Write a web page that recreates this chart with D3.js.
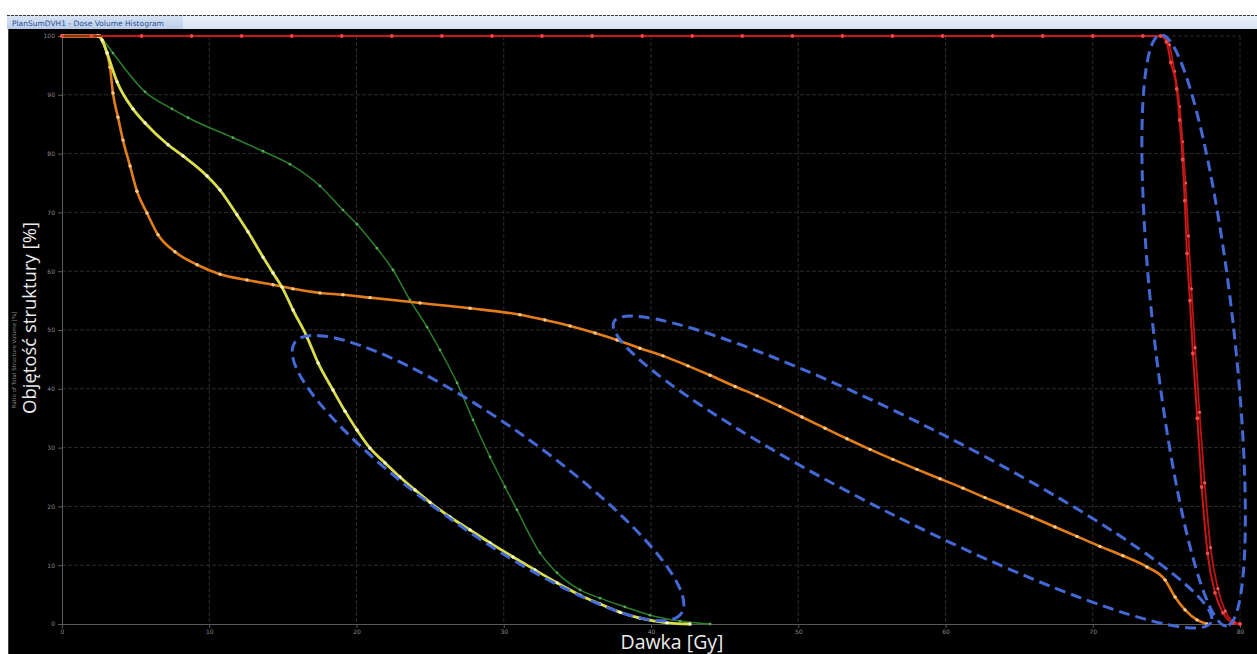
<!DOCTYPE html>
<html>
<head>
<meta charset="utf-8">
<script src="https://cdn.jsdelivr.net/npm/d3@7"></script>
<style>
  html, body { margin: 0; padding: 0; background: #fff; }
  svg { display: block; }
</style>
</head>
<body>
<svg id="chart" width="1257" height="654"></svg>
<script>
// Axis ticks
const doseTicks = [0, 10, 20, 30, 40, 50, 60, 70, 80];
const volumeTicks = [0, 10, 20, 30, 40, 50, 60, 70, 80, 90, 100];

// Cumulative DVH curves: [dose Gy, volume %]
const orangeDVH = [
  [0, 100], [2.58, 100], [2.78, 99.0], [3.06, 97.1], [3.26, 94.7], [3.46, 90.3],
  [3.80, 86.2], [4.14, 82.3], [4.62, 77.9], [5.09, 73.6], [5.77, 69.9], [6.52, 66.2],
  [7.67, 63.3], [9.17, 61.1], [10.73, 59.5], [12.56, 58.5], [14.33, 57.7], [15.69, 57.0],
  [17.52, 56.3], [19.08, 56.0], [20.92, 55.5], [24.31, 54.6], [27.71, 53.7], [31.10, 52.6],
  [32.80, 51.7], [34.50, 50.7], [36.20, 49.5], [37.69, 48.3], [39.25, 46.9], [40.82, 45.6],
  [42.51, 43.9], [44.01, 42.3], [45.71, 40.4], [47.20, 38.8], [48.76, 37.0], [50.25, 35.2],
  [51.82, 33.3], [53.31, 31.5], [54.87, 29.7], [56.43, 28.0], [58.06, 26.3], [59.63, 24.7],
  [61.19, 23.1], [62.68, 21.5], [64.24, 19.9], [65.87, 18.2], [67.44, 16.5], [68.93, 14.9],
  [70.49, 13.2], [72.05, 11.6], [73.68, 9.7], [74.91, 7.5], [75.59, 4.6], [76.27, 2.4],
  [77.08, 0.7], [77.76, 0]
];

const yellowDVH = [
  [0, 100], [2.44, 100], [2.72, 99.3], [3.06, 97.1], [3.74, 92.2], [4.82, 87.6],
  [5.64, 85.2], [7.20, 81.5], [8.22, 79.6], [9.85, 76.2], [10.73, 73.8], [11.88, 69.6],
  [12.63, 66.7], [13.65, 62.4], [14.33, 59.7], [14.94, 57.3], [15.69, 53.4], [16.64, 48.8],
  [17.39, 44.4], [18.40, 39.8], [19.22, 36.2], [20.03, 33.0], [20.92, 29.9], [21.94, 27.4],
  [22.95, 25.0], [23.97, 22.8], [24.99, 20.7], [26.35, 18.2], [27.71, 16.0], [29.07, 13.8],
  [30.63, 11.4], [32.12, 9.2], [33.62, 7.0], [35.18, 4.9], [36.54, 3.4], [37.89, 2.0],
  [39.25, 1.0], [41.09, 0.2], [42.65, 0]
];

const greenDVH = [
  [0, 100], [2.44, 100], [2.78, 99.3], [3.46, 97.1], [5.64, 90.5], [7.47, 87.6],
  [8.56, 86.1], [11.61, 82.7], [13.65, 80.4], [15.48, 78.2], [17.52, 74.5], [19.08, 70.4],
  [20.03, 68.0], [21.39, 63.9], [22.48, 60.2], [23.63, 55.1], [24.79, 50.5], [25.67, 46.6],
  [26.83, 41.0], [27.91, 34.7], [29.07, 28.4], [30.09, 23.3], [30.90, 19.4], [32.46, 12.1],
  [33.62, 8.7], [35.18, 5.8], [36.54, 4.4], [38.23, 2.9], [39.93, 1.5], [41.97, 0.5],
  [44.01, 0]
];

const redDVH1 = [
  [0, 100], [2, 100], [5.4, 100], [8.8, 100], [12.2, 100], [15.6, 100], [19, 100],
  [22.4, 100], [25.8, 100], [29.2, 100], [32.6, 100], [36, 100], [39.4, 100], [42.8, 100],
  [46.2, 100], [49.6, 100], [53, 100], [56.4, 100], [59.8, 100], [63.2, 100], [66.6, 100],
  [70, 100], [73.4, 100], [74.6, 100], [75.0, 99.0], [75.3, 95.5], [75.7, 91], [75.9, 85.7],
  [76.1, 79], [76.25, 72], [76.4, 63], [76.6, 55], [76.8, 46], [77.1, 35], [77.4, 23.3],
  [77.8, 12], [78.3, 5.3], [78.85, 1.9], [79.5, 0.2], [80, 0]
];

const redDVH2 = [
  [0, 100], [74.8, 100], [75.2, 98.5], [75.55, 94], [75.9, 88], [76.1, 82], [76.3, 75],
  [76.5, 66], [76.7, 57], [76.95, 47], [77.25, 36], [77.6, 24], [78.0, 13], [78.5, 6],
  [79.0, 2.2], [79.6, 0.3], [80, 0]
];

// Highlighted regions: major-axis end points in data units
const focusRegions = [
  { from: [15.8, 47.85], to: [42.06, 1.8], halfWidth: 55 },
  { from: [37.48, 51.39], to: [78.04, 0.31], halfWidth: 47 },
  { from: [74.6, 100.2], to: [79.1, -0.3], halfWidth: 40 }
];

const svg = d3.select("#chart");
const W = 1257, H = 654;
const plot = { left: 62, right: 1240, top: 36, bottom: 624 };

const x = d3.scaleLinear().domain([0, 80]).range([plot.left, plot.right]);
const y = d3.scaleLinear().domain([0, 100]).range([plot.bottom, plot.top]);

// Window chrome
const defs = svg.append("defs");
const grad = defs.append("linearGradient").attr("id", "titleGrad")
  .attr("x1", 0).attr("y1", 0).attr("x2", 0).attr("y2", 1);
grad.append("stop").attr("offset", "0%").attr("stop-color", "#dbe6f5");
grad.append("stop").attr("offset", "100%").attr("stop-color", "#b9cce8");
const grad2 = defs.append("linearGradient").attr("id", "titleGrad2")
  .attr("x1", 0).attr("y1", 0).attr("x2", 0).attr("y2", 1);
grad2.append("stop").attr("offset", "0%").attr("stop-color", "#eef3fb");
grad2.append("stop").attr("offset", "100%").attr("stop-color", "#d6e2f2");

svg.append("rect").attr("x", 0).attr("y", 0).attr("width", W).attr("height", H).attr("fill", "#ffffff");
svg.append("rect").attr("x", 7).attr("y", 15).attr("width", W - 7).attr("height", 14).attr("fill", "url(#titleGrad2)");
svg.append("rect").attr("x", 7).attr("y", 15).attr("width", 176).attr("height", 14).attr("fill", "url(#titleGrad)");
svg.append("line").attr("x1", 7).attr("x2", W).attr("y1", 15.5).attr("y2", 15.5)
  .attr("stroke", "#3a3a3a").attr("stroke-width", 1).attr("stroke-dasharray", "3,1");
svg.append("text").attr("x", 12).attr("y", 25.5)
  .attr("font-family", "DejaVu Sans, sans-serif").attr("font-size", 7.5)
  .attr("fill", "#2c4f96")
  .text("PlanSumDVH1 - Dose Volume Histogram");

svg.append("rect").attr("x", 8).attr("y", 29).attr("width", W - 8).attr("height", H - 29).attr("fill", "#000");
svg.append("line").attr("x1", 8.5).attr("x2", 8.5).attr("y1", 29).attr("y2", H)
  .attr("stroke", "#444").attr("stroke-width", 1);

// Grid
const grid = svg.append("g");
grid.selectAll("line.v").data(doseTicks.slice(1)).join("line")
  .attr("x1", d => x(d)).attr("x2", d => x(d))
  .attr("y1", plot.top).attr("y2", plot.bottom)
  .attr("stroke", "#2a2a2a").attr("stroke-width", 1).attr("stroke-dasharray", "4,2");
grid.selectAll("line.h").data(volumeTicks.slice(1)).join("line")
  .attr("x1", plot.left).attr("x2", plot.right)
  .attr("y1", d => y(d)).attr("y2", d => y(d))
  .attr("stroke", "#2a2a2a").attr("stroke-width", 1).attr("stroke-dasharray", "4,2");

// Axes
const xAxis = svg.append("g").attr("transform", `translate(0,${plot.bottom})`)
  .call(d3.axisBottom(x).tickValues(doseTicks).tickSize(4).tickPadding(2).tickFormat(d3.format("d")));
const yAxis = svg.append("g").attr("transform", `translate(${plot.left},0)`)
  .call(d3.axisLeft(y).tickValues(volumeTicks).tickSize(4).tickPadding(3).tickFormat(d3.format("d")));
[xAxis, yAxis].forEach(g => {
  g.select(".domain").attr("stroke", "#5a5a5a");
  g.selectAll(".tick line").attr("stroke", "#5a5a5a");
  g.selectAll(".tick text").attr("fill", "#8a8a8a").attr("font-size", 6)
    .attr("font-family", "DejaVu Sans, sans-serif");
});

// Axis titles
svg.append("text")
  .attr("transform", `translate(16,${(plot.top + plot.bottom) / 2 + 30}) rotate(-90)`)
  .attr("text-anchor", "middle").attr("font-family", "DejaVu Sans, sans-serif")
  .attr("font-size", 5.5).attr("fill", "#8a8a8a")
  .text("Ratio of Total Structure Volume [%]");
svg.append("text")
  .attr("transform", `translate(36,318) rotate(-90)`)
  .attr("text-anchor", "middle").attr("font-family", "Open Sans, sans-serif")
  .attr("font-size", 18.5).attr("fill", "#ececec")
  .text("Objętość struktury [%]");
svg.append("text")
  .attr("x", 672).attr("y", 649)
  .attr("text-anchor", "middle").attr("font-family", "Open Sans, sans-serif")
  .attr("font-size", 19.5).attr("fill", "#ececec")
  .text("Dawka [Gy]");

// Curves
const line = d3.line().x(d => x(d[0])).y(d => y(d[1])).curve(d3.curveMonotoneX);
const curves = [
  { data: greenDVH, stroke: "#2b7f2b", width: 1.5, dot: "#58a858", r: 1.4 },
  { data: orangeDVH, stroke: "#e27d18", width: 2.6, dot: "#f9cc8c", r: 1.7 },
  { data: yellowDVH, stroke: "#d9de4a", width: 2.8, dot: "#fbfbd0", r: 1.7 },
  { data: redDVH2, stroke: "#b81414", width: 1.8, dot: "#f25a5a", r: 1.6 },
  { data: redDVH1, stroke: "#c81818", width: 2, dot: "#f04848", r: 1.9 }
];
const curveG = svg.append("g");
curves.forEach(c => {
  curveG.append("path").attr("d", line(c.data))
    .attr("fill", "none").attr("stroke", c.stroke).attr("stroke-width", c.width)
    .attr("stroke-linejoin", "round");
  curveG.append("g").selectAll("circle").data(c.data).join("circle")
    .attr("cx", d => x(d[0])).attr("cy", d => y(d[1])).attr("r", c.r)
    .attr("fill", c.dot);
});

// Highlight ellipses
const ellG = svg.append("g");
focusRegions.forEach(r => {
  const x1 = x(r.from[0]), y1 = y(r.from[1]);
  const x2 = x(r.to[0]), y2 = y(r.to[1]);
  const cx = (x1 + x2) / 2, cy = (y1 + y2) / 2;
  const rx = Math.hypot(x2 - x1, y2 - y1) / 2;
  const ang = Math.atan2(y2 - y1, x2 - x1) * 180 / Math.PI;
  ellG.append("ellipse")
    .attr("cx", cx).attr("cy", cy).attr("rx", rx).attr("ry", r.halfWidth)
    .attr("transform", `rotate(${ang},${cx},${cy})`)
    .attr("fill", "none").attr("stroke", "#4468d6").attr("stroke-width", 3)
    .attr("stroke-dasharray", "11,6");
});
</script>
</body>
</html>
